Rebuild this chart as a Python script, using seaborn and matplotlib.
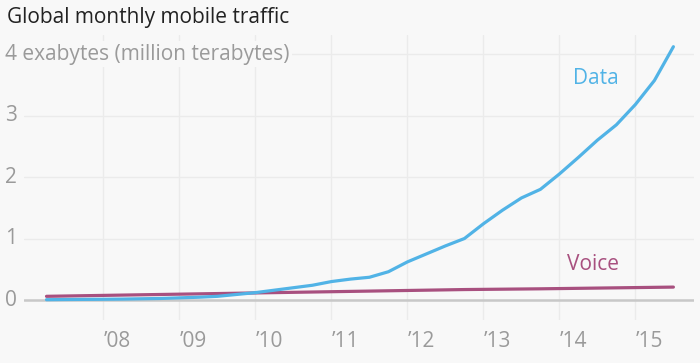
import numpy as np
import pandas as pd
import seaborn as sns
import matplotlib.pyplot as plt

# quarterly traffic, exabytes per month
quarters = pd.period_range("2007Q1", "2015Q2", freq="Q")
data_traffic = [0.005, 0.008, 0.010,
                0.012, 0.015, 0.020, 0.025,
                0.035, 0.045, 0.060, 0.090,
                0.120, 0.160, 0.200, 0.240,
                0.300, 0.340, 0.370, 0.460,
                0.620, 0.750, 0.880, 1.000,
                1.240, 1.460, 1.660, 1.800,
                2.050, 2.320, 2.600, 2.850,
                3.180, 3.570, 4.120]
voice_traffic = [0.060, 0.065, 0.070,
                 0.075, 0.080, 0.085, 0.090,
                 0.095, 0.100, 0.105, 0.110,
                 0.115, 0.120, 0.125, 0.130,
                 0.135, 0.140, 0.145, 0.150,
                 0.155, 0.160, 0.165, 0.170,
                 0.173, 0.176, 0.179, 0.182,
                 0.186, 0.190, 0.194, 0.198,
                 0.202, 0.206, 0.210]
year_ticks = list(range(2008, 2016))
year_labels = ["\u2019" + str(y)[2:] for y in year_ticks]
y_ticks = [0, 1, 2, 3, 4]
y_labels = ["0", "1", "2", "3", "4 exabytes (million terabytes)"]

BG = "#f8f8f8"
BLUE = "#51b3e6"
PURPLE = "#a8507f"
GREY = "#9a9a9a"

# plot each quarter at its end
t = np.array([q.year + q.quarter / 4 for q in quarters])
df = pd.concat([
    pd.DataFrame({"t": t, "traffic": data_traffic, "series": "Data"}),
    pd.DataFrame({"t": t, "traffic": voice_traffic, "series": "Voice"}),
])

sns.set_style("white")
plt.rcParams["font.family"] = ["Open Sans", "DejaVu Sans"]

fig = plt.figure(figsize=(7, 3.63), dpi=100, facecolor=BG)
ax = fig.add_axes([0.0343, 0.1185, 0.957, 0.785], facecolor=BG)

sns.lineplot(data=df, x="t", y="traffic", hue="series",
             palette={"Data": BLUE, "Voice": PURPLE},
             hue_order=["Voice", "Data"],
             linewidth=2.3, legend=False, ax=ax, zorder=3)

ax.set_xlim(2006.954, 2015.77)
ax.set_ylim(-0.325, 4.31)
ax.set_xticks(year_ticks)
ax.set_xticklabels(year_labels)
ax.set_yticks(y_ticks)
ax.set_yticklabels(y_labels)
ax.set_xlabel("")
ax.set_ylabel("")

ax.grid(True, color="#ebebeb", linewidth=1)
ax.set_axisbelow(True)
for s in ax.spines.values():
    s.set_visible(False)
ax.axhline(0, color="#c8c8c8", linewidth=1.8, zorder=2)

ax.tick_params(axis="both", length=0, labelsize=15, labelcolor=GREY)
ax.tick_params(axis="y", pad=14)
ax.tick_params(axis="x", pad=8)
for lbl in ax.get_xticklabels():
    lbl.set_ha("left")
for lbl in ax.get_yticklabels():
    lbl.set_ha("left")
    lbl.set_va("center")
ax.get_yticklabels()[-1].set_bbox(dict(facecolor=BG, edgecolor="none", pad=2))

ax.text(2014.18, 3.6, "Data", color=BLUE, fontsize=15, va="center")
ax.text(2014.1, 0.57, "Voice", color=PURPLE, fontsize=15, va="center")

fig.text(7 / 700, 1 - 18 / 363, "Global monthly mobile traffic",
         fontsize=15, color="#222222", va="center", ha="left")

fig.savefig("out.png", dpi=100, facecolor=BG)
